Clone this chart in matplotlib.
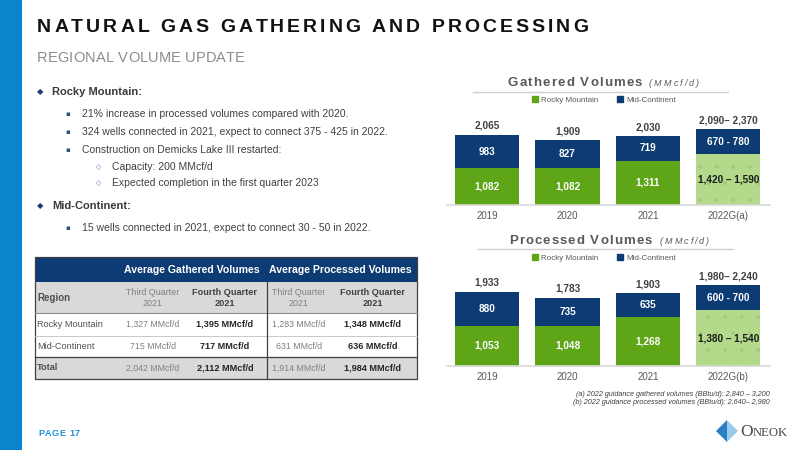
import matplotlib
matplotlib.use('Agg')
import matplotlib.pyplot as plt
from matplotlib.patches import Rectangle, Polygon
import numpy as np

# ---- data ----
years_g = ['2019', '2020', '2021', '2022G(a)']
g_rocky = [1082, 1082, 1311, 1505]
g_mid = [983, 827, 719, 725]
g_rocky_lbl = ['1,082', '1,082', '1,311', '1,420 – 1,590']
g_mid_lbl = ['983', '827', '719', '670 - 780']
g_total_lbl = ['2,065', '1,909', '2,030', '2,090– 2,370']

years_p = ['2019', '2020', '2021', '2022G(b)']
p_rocky = [1053, 1048, 1268, 1460]
p_mid = [880, 735, 635, 650]
p_rocky_lbl = ['1,053', '1,048', '1,268', '1,380 – 1,540']
p_mid_lbl = ['880', '735', '635', '600 - 700']
p_total_lbl = ['1,933', '1,783', '1,903', '1,980– 2,240']

tbl_regions = ['Rocky Mountain', 'Mid-Continent', 'Total']
gath_q3 = ['1,327 MMcf/d', '715 MMcf/d', '2,042 MMcf/d']
gath_q4 = ['1,395 MMcf/d', '717 MMcf/d', '2,112 MMcf/d']
proc_q3 = ['1,283 MMcf/d', '631 MMcf/d', '1,914 MMcf/d']
proc_q4 = ['1,348 MMcf/d', '636 MMcf/d', '1,984 MMcf/d']

bullets = [
    (0, 'Rocky Mountain:'),
    (1, '21% increase in processed volumes compared with 2020.'),
    (1, '324 wells connected in 2021, expect to connect 375 - 425 in 2022.'),
    (1, 'Construction on Demicks Lake III restarted:'),
    (2, 'Capacity: 200 MMcf/d'),
    (2, 'Expected completion in the first quarter 2023'),
    (0, 'Mid-Continent:'),
    (1, '15 wells connected in 2021, expect to connect 30 - 50 in 2022.'),
]
bullet_y = [92, 114, 132, 150, 167, 183, 206, 228]

GREEN = '#5EA518'
LGREEN = '#B3D98A'
NAVY = '#0D3B73'
BLUE = '#0A84CC'
GRAY = '#595959'
SANS = ['Liberation Sans', 'DejaVu Sans']
SERIF = ['Liberation Serif', 'DejaVu Serif']

plt.rcParams['hatch.linewidth'] = 0.3

fig = plt.figure(figsize=(8, 4.5), dpi=100)
bg = fig.add_axes([0, 0, 1, 1], zorder=0)
bg.set_xlim(0, 800)
bg.set_ylim(450, 0)
bg.axis('off')
R = fig.canvas.get_renderer()


def text_w(s, **kw):
    t = bg.text(0, 0, s, **kw)
    w = t.get_window_extent(R).width
    t.remove()
    return w


def spaced(x, y, s, x_end, **kw):
    base = text_w('II', **kw)
    ws = [text_w('I' + c + 'I', **kw) - base for c in s]
    track = (x_end - x - sum(ws)) / (len(s) - 1)
    for c, w in zip(s, ws):
        if c != ' ':
            bg.text(x, y, c, ha='left', va='center', **kw)
        x += w + track


# left band
bg.add_patch(Rectangle((0, 0), 22, 450, color=BLUE, lw=0))

# titles
spaced(37, 27, 'NATURAL GAS GATHERING AND PROCESSING', 588,
       fontsize=14, fontweight='bold', color='#111111', family=SANS)
spaced(37, 58, 'REGIONAL VOLUME UPDATE', 245,
       fontsize=10.5, color='#8C8C8C', family=SANS)
spaced(38, 434, 'PAGE 17', 80, fontsize=6.5, fontweight='bold',
       color='#1E90D8', family=SANS)

# bullets
for (lvl, s), y in zip(bullets, bullet_y):
    if lvl == 0:
        bg.text(40, y, '◆', fontsize=6, color='#1F3A6E', ha='center', va='center',
                family='DejaVu Sans')
        bg.text(52, y, s, fontsize=8, fontweight='bold', color='#3A3A3A',
                va='center', family=SANS)
    elif lvl == 1:
        bg.text(68, y, '▪', fontsize=5, color='#2F4F80', ha='center', va='center',
                family='DejaVu Sans')
        bg.text(82, y, s, fontsize=7.5, color='#404040', va='center', family=SANS)
    else:
        bg.text(99, y, '◇', fontsize=5, color='#3A78B8', ha='center', va='center',
                family='DejaVu Sans')
        bg.text(112, y, s, fontsize=7.5, color='#404040', va='center', family=SANS)

# table
tx0, tx1 = 35, 417
row_edges = [257, 282, 313, 336, 357, 379]
col_x = [153, 225, 299, 373]
bg.add_patch(Rectangle((tx0, 257), tx1 - tx0, 25, color=NAVY, lw=0))
bg.add_patch(Rectangle((tx0, 282), tx1 - tx0, 31, color='#D9D9D9', lw=0))
bg.add_patch(Rectangle((tx0, 357), tx1 - tx0, 22, color='#D9D9D9', lw=0))
bg.plot([tx0, tx1], [313, 313], color='#8C8C8C', lw=0.8)
bg.plot([tx0, tx1], [336, 336], color='#BFBFBF', lw=0.6)
bg.plot([tx0, tx1], [357, 357], color='#404040', lw=0.9)
bg.plot([267, 267], [282, 379], color='#404040', lw=0.9)
bg.add_patch(Rectangle((tx0, 257), tx1 - tx0, 122, fill=False, ec='#404040', lw=0.9))
bg.text(192, 270, 'Average Gathered Volumes', fontsize=7.6, fontweight='bold',
        color='white', ha='center', va='center', family=SANS)
bg.text(340, 270, 'Average Processed Volumes', fontsize=7.6, fontweight='bold',
        color='white', ha='center', va='center', family=SANS)
bg.text(37, 298, 'Region', fontsize=7, fontweight='bold', color='#505050',
        va='center', family=SANS)
for i, cx in enumerate(col_x):
    if i % 2 == 0:
        bg.text(cx, 298, 'Third Quarter\n2021', fontsize=6.4, color='#7F7F7F',
                ha='center', va='center', family=SANS, linespacing=1.15)
    else:
        bg.text(cx, 298, 'Fourth Quarter\n2021', fontsize=6.6, fontweight='bold',
                color='#404040', ha='center', va='center', family=SANS, linespacing=1.15)
for j, reg in enumerate(tbl_regions):
    y = (row_edges[j + 2] + row_edges[j + 3]) / 2
    bold = 'bold' if reg == 'Total' else 'normal'
    bg.text(37, y, reg, fontsize=6.6, fontweight=bold, color='#505050',
            va='center', family=SANS)
    for i, col in enumerate([gath_q3, gath_q4, proc_q3, proc_q4]):
        if i % 2 == 0:
            bg.text(col_x[i], y, col[j], fontsize=6.3, color='#7F7F7F',
                    ha='center', va='center', family=SANS)
        else:
            bg.text(col_x[i], y, col[j], fontsize=6.6, fontweight='bold',
                    color='#262626', ha='center', va='center', family=SANS)


# charts
def stacked(top, base, ymax, years, rocky, mid, rlbl, mlbl, tlbl):
    ax = fig.add_axes([447 / 800, 1 - base / 450, 323 / 800, (base - top) / 450])
    x = np.arange(len(years))
    rc = [GREEN] * (len(years) - 1) + [LGREEN]
    rb = ax.bar(x, rocky, 0.8, color=rc, lw=0)
    mb = ax.bar(x, mid, 0.8, bottom=rocky, color=NAVY, lw=0)
    rb[-1].set_hatch('.')
    rb[-1].set_edgecolor('#A4CC78')
    for i in range(len(years)):
        ax.text(x[i], rocky[i] / 2, rlbl[i], ha='center', va='center', fontsize=7.2,
                fontweight='bold', color='white' if i < len(years) - 1 else '#1A1A1A',
                family=SANS)
        ax.text(x[i], rocky[i] + mid[i] / 2, mlbl[i], ha='center', va='center',
                fontsize=7.2, fontweight='bold', color='white', family=SANS)
        ax.annotate(tlbl[i], (x[i], rocky[i] + mid[i]), xytext=(0, 6.5),
                    textcoords='offset points', ha='center', va='center', fontsize=7.2,
                    fontweight='bold', color='#404040', family=SANS)
    ax.set_xlim(-0.5, 3.52)
    ax.set_ylim(0, ymax)
    ax.set_yticks([])
    ax.set_xticks(x, years)
    ax.tick_params(axis='x', length=0, pad=4, labelsize=7, labelcolor=GRAY)
    for lab in ax.get_xticklabels():
        lab.set_family(SANS)
    for s in ['top', 'left', 'right']:
        ax.spines[s].set_visible(False)
    ax.spines['bottom'].set_color('#D9D9D9')
    ax.spines['bottom'].set_linewidth(1.2)
    ax.patch.set_alpha(0)
    return rb, mb


stacked(110, 205, 2800, years_g, g_rocky, g_mid, g_rocky_lbl, g_mid_lbl, g_total_lbl)
stacked(275, 366, 2376, years_p, p_rocky, p_mid, p_rocky_lbl, p_mid_lbl, p_total_lbl)

# chart titles
spaced(508, 83, 'Gathered Volumes', 642, fontsize=9.5, fontweight='bold',
       color=GRAY, family=SANS)
spaced(649, 84, '(MMcf/d)', 699, fontsize=6.5, style='italic', color=GRAY, family=SANS)
bg.plot([473, 728], [92, 92], color='#D0D0D0', lw=1)
spaced(509, 241, 'Processed Volumes', 652, fontsize=9.5, fontweight='bold',
       color=GRAY, family=SANS)
spaced(660, 242, '(MMcf/d)', 709, fontsize=6.5, style='italic', color=GRAY, family=SANS)
bg.plot([478, 733], [249, 249], color='#D0D0D0', lw=1)

for yc in [100, 258]:
    leg = fig.legend([Rectangle((0, 0), 1, 1, color=GREEN), Rectangle((0, 0), 1, 1, color=NAVY)],
                     ['Rocky Mountain', 'Mid-Continent'], loc='center',
                     bbox_to_anchor=(604 / 800, 1 - yc / 450), ncol=2, frameon=False,
                     handlelength=0.7, handleheight=0.7, handletextpad=0.4,
                     columnspacing=2.4, prop={'family': SANS, 'size': 5.8})
    for t in leg.get_texts():
        t.set_color(GRAY)

# footnotes
bg.text(770, 395, '(a) 2022 guidance gathered volumes (BBtu/d): 2,840 – 3,200', fontsize=5.2,
        style='italic', color='#404040', ha='right', va='center', family=SANS)
bg.text(770, 403, '(b) 2022 guidance processed volumes (BBtu/d): 2,640– 2,980', fontsize=5.2,
        style='italic', color='#404040', ha='right', va='center', family=SANS)

# logo
bg.add_patch(Polygon([(716, 431), (727, 420), (727, 442)], color='#2C7FC4', lw=0))
bg.add_patch(Polygon([(727, 420), (738, 431), (727, 442)], color='#9BCBEB', lw=0))
ow = text_w('O', fontsize=12.5, family=SERIF)
bg.text(740, 436, 'O', fontsize=12.5, color='#4A4A4A', va='baseline', family=SERIF)
bg.text(740 + ow + 0.5, 436, 'NEOK', fontsize=9.2, color='#4A4A4A', va='baseline',
        family=SERIF)

fig.savefig('out.png', dpi=100)
